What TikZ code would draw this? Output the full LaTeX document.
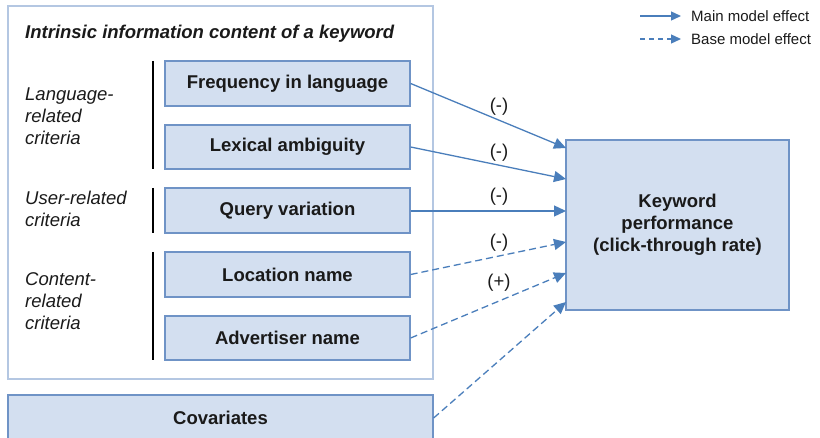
\documentclass[tikz,border=0pt]{standalone}
\usepackage{fontspec}
\setmainfont{Liberation Sans}
\usetikzlibrary{arrows.meta}
\definecolor{boxfill}{HTML}{D3DFF0}
\definecolor{boxline}{HTML}{6F93C6}
\definecolor{outerline}{HTML}{B4C7E2}
\definecolor{arrowblue}{HTML}{4A7EBB}
\definecolor{txt}{HTML}{1A1A1A}
\begin{document}
\begin{tikzpicture}[x=1pt,y=-1pt,
  every node/.style={text=txt},
  bigfont/.style={font=\fontsize{18.5}{22}\selectfont},
  smallfont/.style={font=\fontsize{15}{18}\selectfont},
  itembox/.style={draw=boxline,fill=boxfill,line width=1.3pt,minimum width=245pt,minimum height=45pt,inner sep=0pt,font=\fontsize{18.5}{22}\selectfont\bfseries},
  crit/.style={align=left,anchor=north west,inner sep=0pt,font=\fontsize{18.5}{22}\selectfont\itshape},
  bar/.style={draw=black,line width=1.4pt},
  mainarrow/.style={draw=arrowblue,line width=1.3pt,-{Triangle[length=12pt,width=11pt]}},
  basearrow/.style={mainarrow,dash pattern=on 7pt off 4pt},
  sign/.style={bigfont,inner sep=0pt}]
\useasboundingbox (0,0) rectangle (820,438);
% outer frame
\node[draw=outerline,line width=1.4pt,minimum width=425pt,minimum height=373pt,inner sep=0pt] (frame) at (220.5,192.5) {};
\node[anchor=west,inner sep=0pt,font=\fontsize{18.5}{22}\selectfont\bfseries\itshape] (title) at (25,34) {Intrinsic information content of a keyword};
% items
\node[itembox] (freq) at (287.5,83.5) {Frequency in language};
\node[itembox,minimum height=44pt] (lex) at (287.5,147) {Lexical ambiguity};
\node[itembox] (query) at (287.5,210.5) {Query variation};
\node[itembox] (loc) at (287.5,274.5) {Location name};
\node[itembox,minimum height=44pt] (adv) at (287.5,338) {Advertiser name};
\node[itembox,minimum width=425pt,minimum height=46pt] (cov) at (220.5,418) {Covariates};
\node[itembox,minimum width=223pt,minimum height=170pt,align=center] (kp) at (677.5,225) {Keyword\\performance\\(click-through rate)};
% criteria labels
\node[crit] (lang) at (25,87.3) {Language-\\related\\criteria};
\node[crit] (user) at (25,191.3) {User-related\\criteria};
\node[crit] (cont) at (25,272.3) {Content-\\related\\criteria};
% bars
\coordinate (b1t) at (153,61); \coordinate (b1b) at (153,169);
\coordinate (b2t) at (153,188); \coordinate (b2b) at (153,233);
\coordinate (b3t) at (153,252); \coordinate (b3b) at (153,360);
\draw[bar] (b1t) -- (b1b);
\draw[bar] (b2t) -- (b2b);
\draw[bar] (b3t) -- (b3b);
% arrow targets
\coordinate (t1) at (566,148);
\coordinate (t2) at (566,179);
\coordinate (t3) at (566,211);
\coordinate (t4) at (566,242);
\coordinate (t5) at (566,273);
\coordinate (t6) at (566,302);
\draw[mainarrow] (freq.east) -- (t1);
\draw[mainarrow] (lex.east) -- (t2);
\draw[mainarrow] (query.east |- t3) -- (t3);
\draw[basearrow] (loc.east) -- (t4);
\draw[basearrow] (adv.east) -- (t5);
\draw[basearrow] (cov.east) -- (t6);
\node[sign] (s1) at (499,107) {(-)};
\node[sign] (s2) at (499,153) {(-)};
\node[sign] (s3) at (499,197) {(-)};
\node[sign] (s4) at (499,243) {(-)};
\node[sign] (s5) at (499,283) {(+)};
% legend
\coordinate (l1a) at (640,16); \coordinate (l1b) at (681,16);
\coordinate (l2a) at (640,39); \coordinate (l2b) at (681,39);
\draw[mainarrow,-{Triangle[length=10pt,width=9pt]}] (l1a) -- (l1b);
\draw[basearrow,dash pattern=on 5pt off 4pt,-{Triangle[length=10pt,width=9pt]}] (l2a) -- (l2b);
\node[anchor=west,inner sep=0pt,smallfont] (leg1) at (691,16) {Main model effect};
\node[anchor=west,inner sep=0pt,smallfont] (leg2) at (691,39) {Base model effect};
\end{tikzpicture}
\end{document}
